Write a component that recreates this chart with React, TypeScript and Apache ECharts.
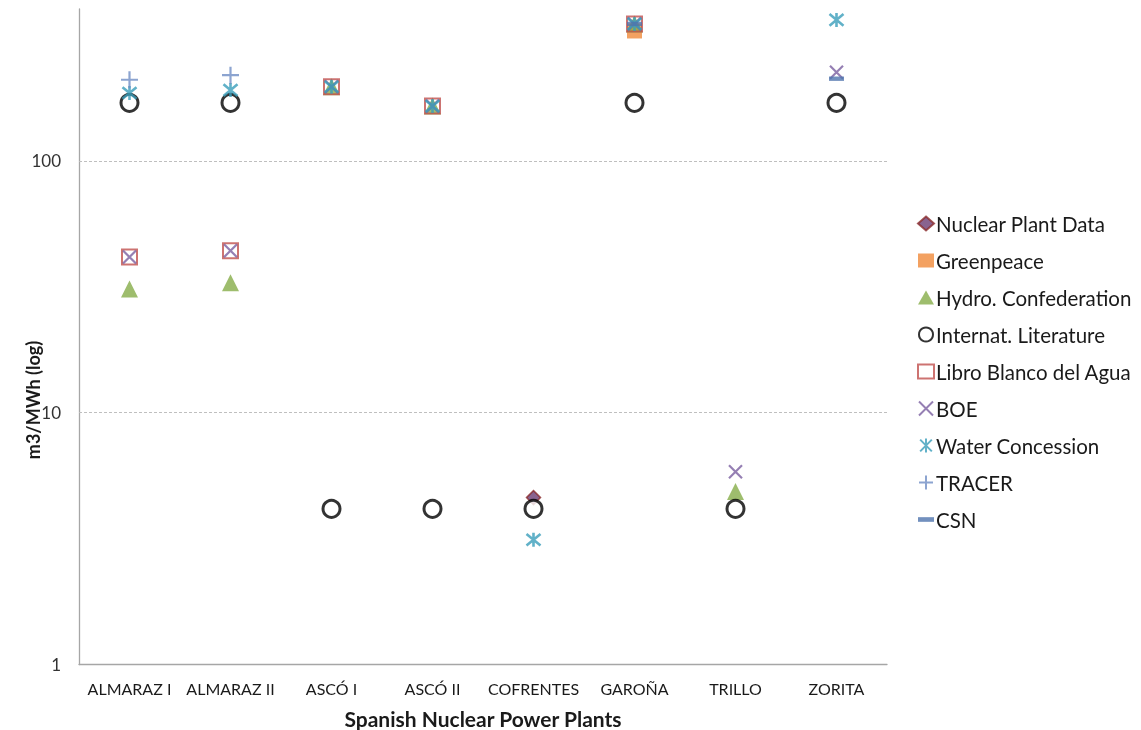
import React, { useEffect, useRef } from "react";
import * as echarts from "echarts";

const categories = ["ALMARAZ I", "ALMARAZ II", "ASCÓ I", "ASCÓ II", "COFRENTES", "GAROÑA", "TRILLO", "ZORITA"];
const nuclearPlantData = [null, null, null, null, 4.6, null, null, null];
const greenpeace = [null, null, null, null, null, 328, null, null];
const hydroConfederation = [31, 32.8, 197, 165, null, 350, 4.86, null];
const internatLiterature = [170, 170, 4.15, 4.15, 4.15, 170, 4.15, 170];
const libroBlanco = [41.5, 44, 197, 165, null, 350, null, null];
const boe = [41.5, 44, 197, 165, null, 350, 5.83, 225];
const waterConcession = [186, 191, 197, 165, 3.13, 350, null, 363];
const tracer = [210, 219, null, null, null, null, null, null];
const csn = [null, null, null, null, null, 350, null, 212];
const yTickLabels = [1, 10, 100];
const gridValues = [10, 100];

const FONT = "Lato";

export default function App() {
  const ref = useRef<HTMLDivElement>(null);
  useEffect(() => {
    const chart = echarts.init(ref.current!, null, { renderer: "svg" });
    const mk = (name: string, data: any[], symbol: any, size: any, itemStyle: any, extra: any = {}) => ({
      name,
      type: "scatter",
      data,
      symbol,
      symbolSize: size,
      itemStyle,
      ...extra,
    });
    const X = "path://M0,0L10,10M10,0L0,10";
    const AST = "path://M0,0L10,10M10,0L0,10M5,-1L5,11";
    const PLUS = "path://M5,0L5,10M0,5L10,5";
    const DASH = "path://M0,0L12,0L12,3.5L0,3.5Z";
    const series: any[] = [
      mk("Nuclear Plant Data", nuclearPlantData, "diamond", 14, { color: "#6B3C73", borderColor: "#8B2D2D", borderWidth: 1.5 }, {
        markLine: {
          silent: true,
          symbol: "none",
          label: { show: false },
          lineStyle: { color: "#BFBFBF", type: [3, 2], width: 1 },
          data: gridValues.map((v) => ({ yAxis: v })),
        },
      }),
      mk("Greenpeace", greenpeace, "rect", 15, { color: "#F0893A" }),
      mk("Hydro. Confederation", hydroConfederation, "triangle", 17, { color: "#86AC48" }),
      mk("Internat. Literature", internatLiterature, "circle", 17, { color: "#ffffff", borderColor: "#000000", borderWidth: 3 }),
      mk("Libro Blanco del Agua", libroBlanco, "rect", 15, { color: "transparent", borderColor: "#C0504D", borderWidth: 2 }),
      mk("BOE", boe, X, 13, { color: "transparent", borderColor: "#7A5FA0", borderWidth: 2.2 }),
      mk("Water Concession", waterConcession, AST, 14, { color: "transparent", borderColor: "#3A9EBA", borderWidth: 2.6 }),
      mk("TRACER", tracer, PLUS, 17, { color: "transparent", borderColor: "#6F8DC4", borderWidth: 2.2 }),
      mk("CSN", csn, DASH, 15, { color: "#4F74AE" }, { symbolKeepAspect: true }),
    ];
    chart.setOption({
      animation: false,
      textStyle: { fontFamily: FONT },
      grid: { left: 79, top: 9, width: 808, height: 655.5, outerBoundsMode: "none", containLabel: false },
      xAxis: {
        type: "category",
        data: categories,
        boundaryGap: true,
        axisLine: { lineStyle: { color: "#A6A6A6", width: 1.3 } },
        axisTick: { show: false },
        axisLabel: { color: "#1a1a1a", fontSize: 16, fontFamily: FONT, margin: 16, interval: 0 },
        name: "Spanish Nuclear Power Plants",
        nameLocation: "middle",
        nameGap: 43,
        nameTextStyle: { color: "#1a1a1a", fontSize: 21, fontWeight: "bold", fontFamily: FONT },
        splitLine: { show: false },
      },
      yAxis: {
        type: "log",
        logBase: 10,
        min: 1,
        max: 401,
        axisLine: { show: true, lineStyle: { color: "#A6A6A6", width: 1.3 } },
        axisTick: { show: false },
        splitLine: { show: false },
        axisLabel: {
          color: "#333333",
          fontSize: 17,
          fontFamily: FONT,
          margin: 18,
          formatter: (v: number) => (yTickLabels.some((t) => Math.abs(t - v) < 1e-6) ? String(Math.round(v)) : ""),
        },
      },
      legend: {
        orient: "vertical",
        left: 912,
        top: 208,
        itemWidth: 16,
        itemHeight: 14,
        itemGap: 16,
        textStyle: { color: "#1a1a1a", fontSize: 20.5, fontFamily: FONT, padding: [0, 0, 0, -3] },
        data: series.map((s) => s.name),
      },
      graphic: [
        {
          type: "text",
          x: 33,
          y: 400,
          rotation: Math.PI / 2,
          style: {
            text: "m3/MWh (log)",
            font: `bold 18px ${FONT}`,
            fill: "#1a1a1a",
            textAlign: "center",
            textVerticalAlign: "middle",
          },
        },
      ],
      series,
    });
    return () => chart.dispose();
  }, []);
  return <div ref={ref} style={{ position: "fixed", left: 0, top: 0, width: 1141, height: 730 }} />;
}
